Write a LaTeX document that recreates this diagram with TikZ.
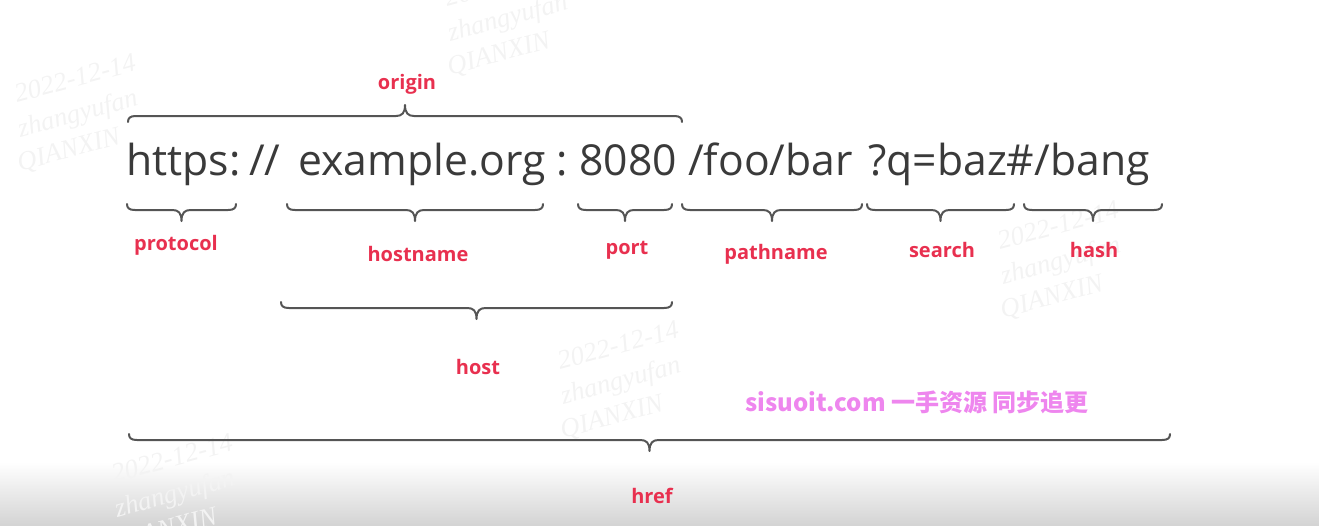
\documentclass[tikz,border=0pt]{standalone}
\usepackage{fontspec}
\setmainfont{Open Sans}
\newfontfamily\cjk{Noto Sans CJK SC}
\newfontfamily\wmfont{Liberation Serif}
\definecolor{txt}{HTML}{3A3A3A}
\definecolor{brc}{HTML}{555555}
\definecolor{lbl}{HTML}{E8304F}
\definecolor{pink}{HTML}{EE86EE}
\definecolor{wmc}{HTML}{F3F3F3}
\newcommand\urlbrace[4][]{%
  \begin{scope}[shift={(0,#4)},#1]
    \pgfmathsetmacro\bmid{(#2+#3)/2}
    \draw[bracestyle] (#2,0) .. controls (#2,4) and (#2+2,6) .. (#2+8,6)
      -- (\bmid-9,6) .. controls (\bmid-3,6) and (\bmid,9) .. (\bmid,17)
      .. controls (\bmid,9) and (\bmid+3,6) .. (\bmid+9,6)
      -- (#3-8,6) .. controls (#3-2,6) and (#3,4) .. (#3,0);
  \end{scope}}
\begin{document}
\begin{tikzpicture}[x=0.75pt,y=-0.75pt,
  bracestyle/.style={draw=brc,line width=1.5pt,line cap=round,line join=round},
  seg/.style={anchor=base west,inner sep=0pt,text=txt,font=\fontsize{32}{40}\selectfont},
  lab/.style={inner sep=1pt,text=lbl,font=\bfseries\fontsize{15}{18}\selectfont},
  wmtext/.style={text=wmc,font=\wmfont\itshape\fontsize{20}{24}\selectfont,rotate=15,inner sep=0pt},
  wm/.pic={\node[wmtext] at (0,0) {2022-12-14};
           \node[wmtext] at (3,37) {zhangyufan};
           \node[wmtext] at (-6,73) {QIANXIN};}]
\useasboundingbox (0,0) rectangle (1319,525);
\shade[top color=white,bottom color=black!17] (0,462) rectangle (1319,525);
% watermarks
\pic at (505,-18) {wm};
\pic at (75,78) {wm};
\pic at (1058,225) {wm};
\pic at (618,345) {wm};
\pic at (172,458) {wm};
% URL text
\node[seg] (proto) at (126,175) {https:};
\node[seg] (slash) at (249,175) {//};
\node[seg] (hname) at (298,175) {example.org};
\node[seg] (colon) at (556,175) {:};
\node[seg] (pnum)  at (579,175) {8080};
\node[seg] (path)  at (688,175) {/foo/bar};
\node[seg] (srch)  at (868,175) {?q=baz\#/bang};
% braces
\urlbrace[yscale=-1]{128}{682}{122}
\urlbrace{127}{236}{204}
\urlbrace{287}{543}{204}
\urlbrace{578}{672}{204}
\urlbrace{682}{862}{204}
\urlbrace{867}{1014}{204}
\urlbrace{1024}{1162}{204}
\urlbrace{281}{672}{302}
\urlbrace{129}{1170}{434}
% labels
\node[lab] (origin) at (407,84) {origin};
\node[lab] (protocol) at (176,245) {protocol};
\node[lab] (hostname) at (418,254) {hostname};
\node[lab] (port) at (627,250) {port};
\node[lab] (pathname) at (776,254) {pathname};
\node[lab] (search) at (942,250) {search};
\node[lab] (hash) at (1094,250) {hash};
\node[lab] (host) at (478,367) {host};
\node[lab] (href) at (652,496) {href};
% banner
\node[text=pink,font=\cjk\bfseries\fontsize{18}{22}\selectfont,inner sep=0pt] (banner) at (917,402) {sisuoit.com 一手资源 同步追更};
\end{tikzpicture}
\end{document}
